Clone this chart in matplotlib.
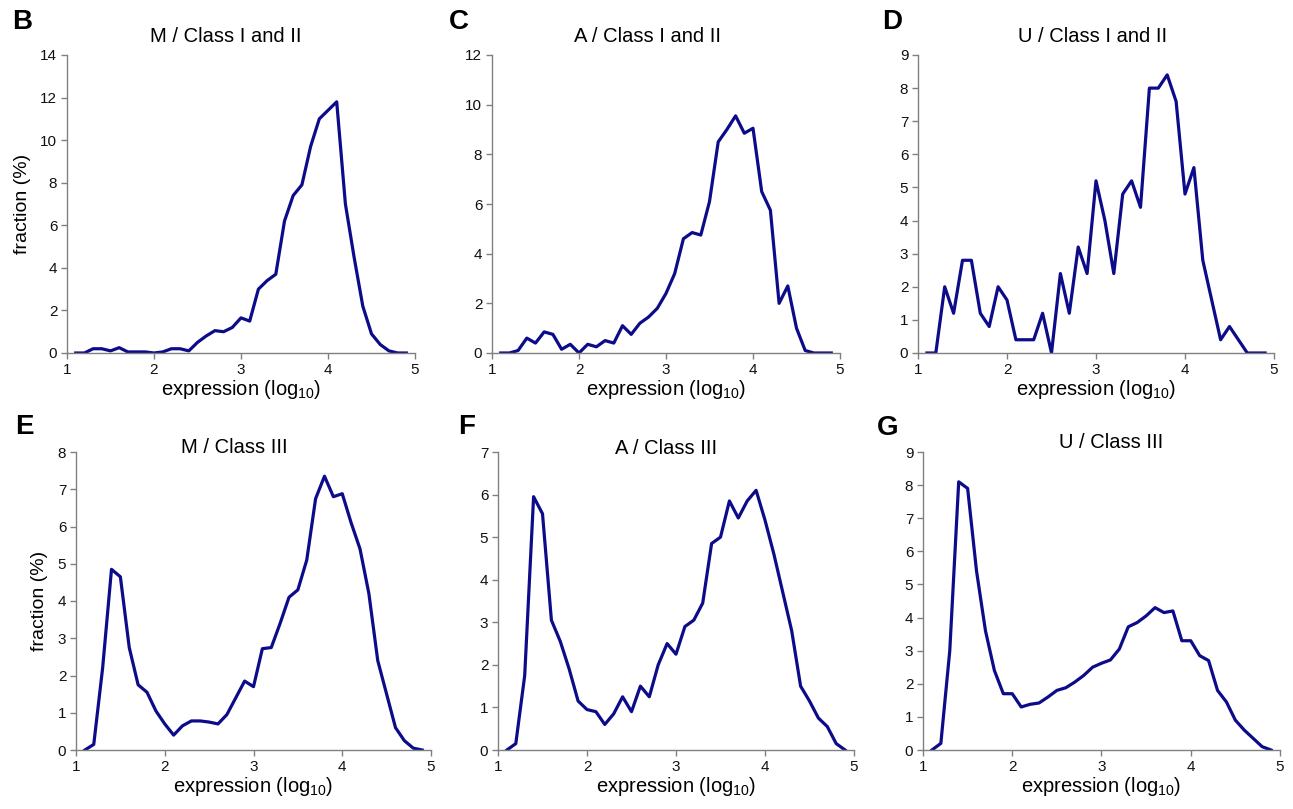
import matplotlib
matplotlib.use("Agg")
import matplotlib.pyplot as plt

plt.rcParams['font.family'] = ['Liberation Sans', 'DejaVu Sans']

W, H = 1293, 809

# expression bins (log10)
x = [round(1.1 + 0.1 * i, 1) for i in range(39)]

m_class12 = [0, 0, 0.2, 0.2, 0.1, 0.25, 0.05, 0.05, 0.05, 0, 0.05, 0.2, 0.2, 0.1,
             0.5, 0.8, 1.05, 1.0, 1.2, 1.65, 1.5, 3.0, 3.4, 3.7, 6.2, 7.4, 7.9, 9.7,
             11.0, 11.4, 11.8, 7.0, 4.5, 2.2, 0.9, 0.4, 0.1, 0, 0]
a_class12 = [0, 0, 0.1, 0.6, 0.4, 0.85, 0.75, 0.15, 0.35, 0.0, 0.35, 0.25, 0.5, 0.4,
             1.1, 0.75, 1.2, 1.45, 1.8, 2.4, 3.2, 4.6, 4.85, 4.75, 6.1, 8.5, 9.0, 9.55,
             8.85, 9.05, 6.5, 5.75, 2.0, 2.7, 1.0, 0.1, 0, 0, 0]
u_class12 = [0, 0, 2.0, 1.2, 2.8, 2.8, 1.2, 0.8, 2.0, 1.6, 0.4, 0.4, 0.4, 1.2,
             0, 2.4, 1.2, 3.2, 2.4, 5.2, 4.0, 2.4, 4.8, 5.2, 4.4, 8.0, 8.0, 8.4,
             7.6, 4.8, 5.6, 2.8, 1.6, 0.4, 0.8, 0.4, 0, 0, 0]
m_class3 = [0, 0.15, 2.2, 4.85, 4.65, 2.75, 1.75, 1.55, 1.05, 0.7, 0.4, 0.65, 0.78, 0.78,
            0.75, 0.7, 0.95, 1.4, 1.85, 1.7, 2.72, 2.75, 3.4, 4.1, 4.3, 5.1, 6.75, 7.35,
            6.8, 6.88, 6.1, 5.4, 4.2, 2.4, 1.5, 0.6, 0.25, 0.05, 0]
a_class3 = [0, 0.15, 1.75, 5.95, 5.55, 3.05, 2.55, 1.9, 1.15, 0.95, 0.9, 0.6, 0.85, 1.25,
            0.9, 1.5, 1.25, 2.0, 2.5, 2.25, 2.9, 3.05, 3.45, 4.85, 5.0, 5.85, 5.45, 5.85,
            6.1, 5.4, 4.6, 3.7, 2.8, 1.5, 1.15, 0.75, 0.55, 0.15, 0]
u_class3 = [0, 0.2, 3.0, 8.1, 7.9, 5.4, 3.6, 2.4, 1.7, 1.7, 1.3, 1.38, 1.42, 1.6,
            1.8, 1.88, 2.05, 2.25, 2.5, 2.62, 2.72, 3.05, 3.72, 3.85, 4.05, 4.3, 4.15, 4.2,
            3.3, 3.3, 2.85, 2.7, 1.8, 1.45, 0.9, 0.6, 0.35, 0.1, 0]

titles = ["M / Class I and II", "A / Class I and II", "U / Class I and II",
          "M / Class III", "A / Class III", "U / Class III"]
letters = ["B", "C", "D", "E", "F", "G"]
series = [m_class12, a_class12, u_class12, m_class3, a_class3, u_class3]
ymax = [14, 12, 9, 8, 7, 9]
ystep = [2, 2, 1, 1, 1, 1]

# panel boxes in pixels: left, right, top, bottom
boxes = [(67, 415, 55, 353), (492, 840, 55, 353), (918, 1274, 55, 353),
         (76, 431, 452, 750), (498, 854, 452, 750), (923, 1280, 452, 750)]
title_pos = [(226, 37), (647, 37), (1093, 37), (234, 447), (666, 448), (1111, 443)]
letter_pos = [(22, 22), (459, 22), (892, 22), (24, 427), (467, 427), (888, 428)]

line_color = '#0c0c8a'
spine_color = '#808080'

fig = plt.figure(figsize=(W / 100, H / 100), dpi=100)

for i in range(6):
    l, r, t, b = boxes[i]
    ax = fig.add_axes([l / W, (H - b) / H, (r - l) / W, (b - t) / H])
    ax.plot(x, series[i], color=line_color, linewidth=2.3, solid_joinstyle='round')
    ax.set_xlim(1, 5)
    ax.set_ylim(0, ymax[i])
    ax.set_xticks([1, 2, 3, 4, 5])
    ax.set_yticks(range(0, ymax[i] + 1, ystep[i]))
    for s in ['top', 'right']:
        ax.spines[s].set_visible(False)
    for s in ['left', 'bottom']:
        ax.spines[s].set_color(spine_color)
        ax.spines[s].set_linewidth(1.0)
    ax.tick_params(direction='out', length=4, width=1.0, color=spine_color,
                   labelsize=11, labelcolor='#111111', pad=3)
    ax.set_xlabel('expression (log$_{\\mathregular{10}}$)', fontsize=14.5, labelpad=1)
    if i in (0, 3):
        ax.set_ylabel('fraction (%)', fontsize=14, labelpad=7)
    tx, ty = title_pos[i]
    fig.text(tx / W, 1 - ty / H, titles[i], fontsize=14.5, ha='center', va='center')
    lx, ly = letter_pos[i]
    fig.text(lx / W, 1 - ly / H, letters[i], fontsize=20, fontweight='bold',
             ha='center', va='center')

fig.savefig('out.png', dpi=100)
